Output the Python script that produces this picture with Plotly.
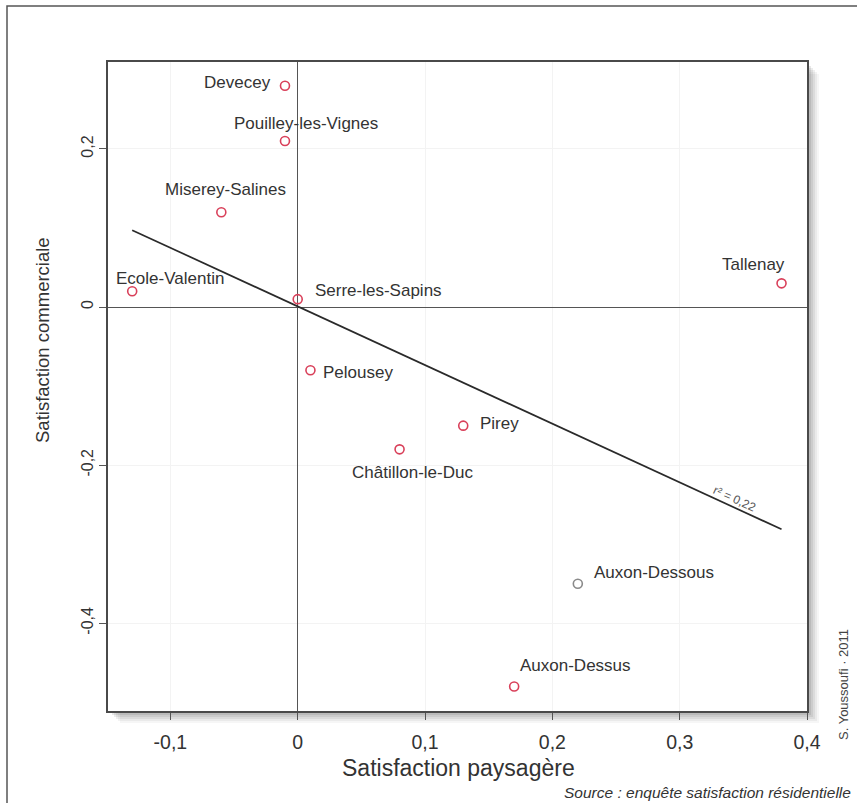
import numpy as np
import plotly.graph_objects as go

# ---- data ----
communes = ["Devecey", "Pouilley-les-Vignes", "Miserey-Salines", "Ecole-Valentin",
            "Serre-les-Sapins", "Tallenay", "Pelousey", "Pirey", "Châtillon-le-Duc",
            "Auxon-Dessous", "Auxon-Dessus"]
sat_paysagere = [-0.01, -0.01, -0.06, -0.13, 0.00, 0.38, 0.01, 0.13, 0.08, 0.22, 0.17]
sat_commerciale = [0.28, 0.21, 0.12, 0.02, 0.01, 0.03, -0.08, -0.15, -0.18, -0.35, -0.48]
x_tickvals = [-0.1, 0, 0.1, 0.2, 0.3, 0.4]
x_ticktext = ["-0,1", "0", "0,1", "0,2", "0,3", "0,4"]
y_tickvals = [-0.4, -0.2, 0, 0.2]
y_ticktext = ["-0,4", "-0,2", "0", "0,2"]

# ---- styling (label anchor, offsets in pixels: dx right, dy up) ----
label_style = {
    "Devecey": ("right", -12, 3),
    "Pouilley-les-Vignes": ("left", -53, 18),
    "Miserey-Salines": ("left", -58, 23),
    "Ecole-Valentin": ("left", -18, 13),
    "Serre-les-Sapins": ("left", 15, 9),
    "Tallenay": ("right", 5, 19),
    "Pelousey": ("left", 11, -2),
    "Pirey": ("left", 15, 2),
    "Châtillon-le-Duc": ("center", 13, -23),
    "Auxon-Dessous": ("left", 14, 11),
    "Auxon-Dessus": ("left", 4, 21),
}
marker_colors = ["#d9405a"] * len(communes)
marker_colors[communes.index("Auxon-Dessous")] = "#8a8a8a"

FONT = "Liberation Sans, Arial, sans-serif"
W, H = 857, 803
ML, MR, MT, MB = 108, 50, 62, 92
PW, PH = W - ML - MR, H - MT - MB

def px(xp):
    return (xp - ML) / PW

def py(yp):
    return (H - MB - yp) / PH

x = np.array(sat_paysagere)
y = np.array(sat_commerciale)
slope, intercept = np.polyfit(x, y, 1)
r2 = np.corrcoef(x, y)[0, 1] ** 2
xl = np.array([x.min(), x.max()])
yl = intercept + slope * xl

XR = [-0.149, 0.4]
YR = [-0.511, 0.310]

fig = go.Figure()
fig.add_trace(go.Scatter(x=xl, y=yl, mode="lines",
                         line=dict(color="#2a2a2a", width=1.7),
                         hoverinfo="skip", showlegend=False))
fig.add_trace(go.Scatter(x=sat_paysagere, y=sat_commerciale, mode="markers",
                         text=communes,
                         marker=dict(symbol="circle-open", size=9,
                                     color=marker_colors, line=dict(width=1.6)),
                         showlegend=False))

annotations = []
for name, xv, yv in zip(communes, sat_paysagere, sat_commerciale):
    anchor, dx, dy = label_style[name]
    annotations.append(dict(x=xv, y=yv, text=name, showarrow=False,
                            xshift=dx, yshift=dy, xanchor=anchor, yanchor="middle",
                            font=dict(family=FONT, size=17, color="#333333")))

# r² label along the line
xa = 0.345
ya = intercept + slope * xa
ang = np.degrees(np.arctan((-slope * PH / (YR[1] - YR[0])) / (PW / (XR[1] - XR[0]))))
annotations.append(dict(x=xa, y=ya, text="r² = " + f"{r2:.2f}".replace(".", ","),
                        showarrow=False, textangle=ang, xshift=-2, yshift=10,
                        font=dict(family=FONT, size=12, color="#555555")))

# axis titles and credits
annotations += [
    dict(xref="paper", yref="paper", x=px(458), y=py(768), text="Satisfaction paysagère",
         showarrow=False, xanchor="center", yanchor="middle",
         font=dict(family=FONT, size=23, color="#333333")),
    dict(xref="paper", yref="paper", x=px(42), y=py(340), text="Satisfaction commerciale",
         showarrow=False, textangle=-90, xanchor="center", yanchor="middle",
         font=dict(family=FONT, size=18.5, color="#333333")),
    dict(xref="paper", yref="paper", x=px(853), y=py(792),
         text="<i>Source : enquête satisfaction résidentielle</i>",
         showarrow=False, xanchor="right", yanchor="middle",
         font=dict(family=FONT, size=15.5, color="#333333")),
    dict(xref="paper", yref="paper", x=px(843), y=py(685), text="S. Youssoufi · 2011",
         showarrow=False, textangle=-90, xanchor="center", yanchor="middle",
         font=dict(family=FONT, size=13, color="#444444")),
]

shapes = []
# soft shadow of plot frame
for i, op in zip(range(12, 0, -2), [0.05, 0.07, 0.09, 0.11, 0.13, 0.15]):
    shapes.append(dict(type="rect", xref="paper", yref="paper", layer="below",
                       x0=px(ML + i), x1=px(ML + PW + i), y0=py(MT + PH + i), y1=py(MT + i),
                       fillcolor=f"rgba(80,80,80,{op})", line=dict(width=0)))
shapes.append(dict(type="rect", xref="paper", yref="paper", layer="below",
                   x0=0, x1=1, y0=0, y1=1, fillcolor="white", line=dict(width=0)))
# outer frame
shapes.append(dict(type="rect", xref="paper", yref="paper",
                   x0=px(7), x1=px(W + 20), y0=py(H + 20), y1=py(6),
                   line=dict(color="#555555", width=1.5), fillcolor="rgba(0,0,0,0)"))

axis_common = dict(showgrid=True, gridcolor="#f3f3f3", gridwidth=1,
                   zeroline=True, zerolinecolor="#555555", zerolinewidth=1,
                   showline=True, mirror=True, linecolor="#4a4a4a", linewidth=1.5,
                   ticks="outside", ticklen=7, tickcolor="#555555")

fig.update_layout(
    width=W, height=H,
    margin=dict(l=ML, r=MR, t=MT, b=MB),
    paper_bgcolor="white", plot_bgcolor="rgba(0,0,0,0)",
    annotations=annotations, shapes=shapes,
    font=dict(family=FONT, color="#333333"),
    xaxis=dict(range=XR, tickvals=x_tickvals, ticktext=x_ticktext,
               ticklabelstandoff=6,
               tickfont=dict(family=FONT, size=19.5, color="#333333"), **axis_common),
    yaxis=dict(range=YR, tickvals=y_tickvals, ticktext=y_ticktext, tickangle=-90,
               tickfont=dict(family=FONT, size=16, color="#333333"), **axis_common),
)

fig.write_html("out.html", config={"displayModeBar": False},
               post_script="document.body.style.margin='0px';document.body.style.overflow='hidden';")
